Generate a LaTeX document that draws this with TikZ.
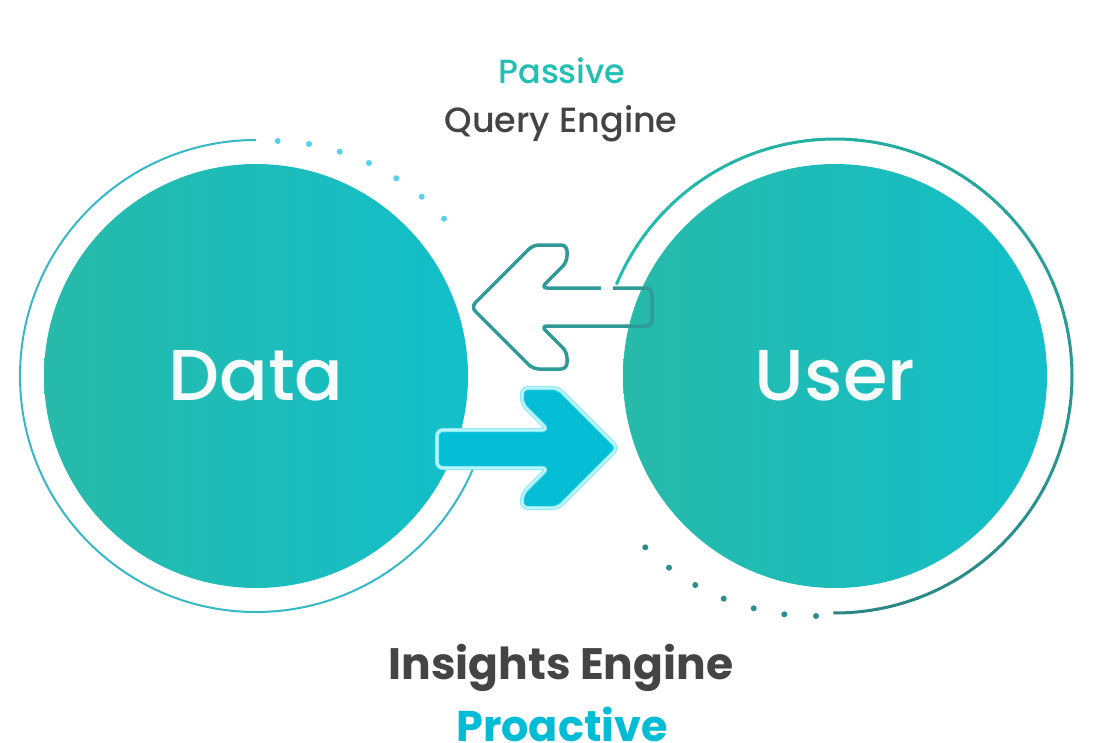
\documentclass[tikz,border=0pt]{standalone}
\usepackage{fontspec}
\setmainfont{Poppins}
\newfontfamily\medfont{Poppins Medium}
\newfontfamily\boldfont{Poppins Bold}

\definecolor{bubL}{HTML}{27BAA9}
\definecolor{bubR}{HTML}{13BFCA}
\definecolor{ringData}{HTML}{35B9C6}
\definecolor{dotData}{HTML}{55D2EE}
\definecolor{ringUserA}{HTML}{22BDAD}
\definecolor{ringUserB}{HTML}{2B8585}
\definecolor{dotUser}{HTML}{2A8E8E}
\definecolor{backLine}{HTML}{2F9A98}
\definecolor{fwdFill}{HTML}{05BED6}
\definecolor{fwdEdge}{HTML}{86EBF6}
\definecolor{fwdInner}{HTML}{D8FBFF}
\definecolor{passiveC}{HTML}{23BFB3}
\definecolor{proactiveC}{HTML}{00BCD4}
\definecolor{textGray}{HTML}{444444}

\tikzset{
  bubble/.style={circle,minimum size=424pt,inner sep=0pt,left color=bubL,right color=bubR,
    text=white!96!bubL,font=\medfont\fontsize{72}{78}\selectfont},
  toplabel/.style={anchor=base,font=\medfont\fontsize{35}{40}\selectfont},
  botlabel/.style={anchor=base,font=\boldfont\fontsize{44}{50}\selectfont},
  backarrow/.style={draw=backLine,line width=3.5pt,rounded corners=6pt,line join=round},
  fwdarrow/.style={fill=fwdFill,draw=fwdEdge,line width=4pt,rounded corners=6pt,line join=round,
    postaction={draw=fwdInner,line width=1.2pt}}
}

\begin{document}
\begin{tikzpicture}[x=1pt,y=-1pt]
\useasboundingbox[fill=white] (0,0) rectangle (1102,742);

\node[bubble] (data) at (256,376) {Data};
\node[bubble] (user) at (835,376) {User};

% rings round the bubbles
\draw[ringData,line width=2pt] (data.center) ++(270:236) arc[start angle=270,end angle=18,radius=236];
\foreach \p in {(277.7,141),(309,144),(339.7,151.7),(369,163),(396.3,178.3),(421.7,196.7),(444,218.7)}
  \fill[dotData] \p circle[radius=3];

\foreach \i in {0,...,23} {
  \pgfmathsetmacro\sa{202.7+\i*10.3}
  \pgfmathsetmacro\ea{\sa+10.8}
  \pgfmathsetmacro\mix{\i*100/23}
  \draw[ringUserB!\mix!ringUserA,line width=3pt] (user.center) ++(\sa:237) arc[start angle=\sa,end angle=\ea,radius=237];
}
\foreach \p in {(645.3,547.3),(669,567.7),(695.3,585),(723.7,598.7),(753.7,608.3),(784.3,614.3),(816,616)}
  \fill[dotUser] \p circle[radius=3];

% arrows
\draw[backarrow] (471,307) -- (533,245) -- (567,245) -- (567,262) -- (541,288) -- (652,288)
  -- (652,326) -- (541,326) -- (567,352) -- (567,369) -- (533,369) -- cycle;
\draw[white,line width=5pt] (601,288) -- (613,288);
\draw[fwdarrow] (618,448) -- (558,388) -- (522,388) -- (522,404) -- (548,430) -- (437,430)
  -- (437,468) -- (548,468) -- (522,494) -- (522,508) -- (558,508) -- cycle;

\node[toplabel,text=passiveC,font=\medfont\fontsize{33.5}{40}\selectfont] (passive) at (562,83) {Passive};
\node[toplabel,text=textGray] (query) at (561,132) {Query Engine};
\node[botlabel,text=textGray] (insights) at (561,679) {Insights Engine};
\node[botlabel,text=proactiveC,font=\boldfont\fontsize{43}{50}\selectfont] (proactive) at (562,741) {Proactive};
\end{tikzpicture}
\end{document}
